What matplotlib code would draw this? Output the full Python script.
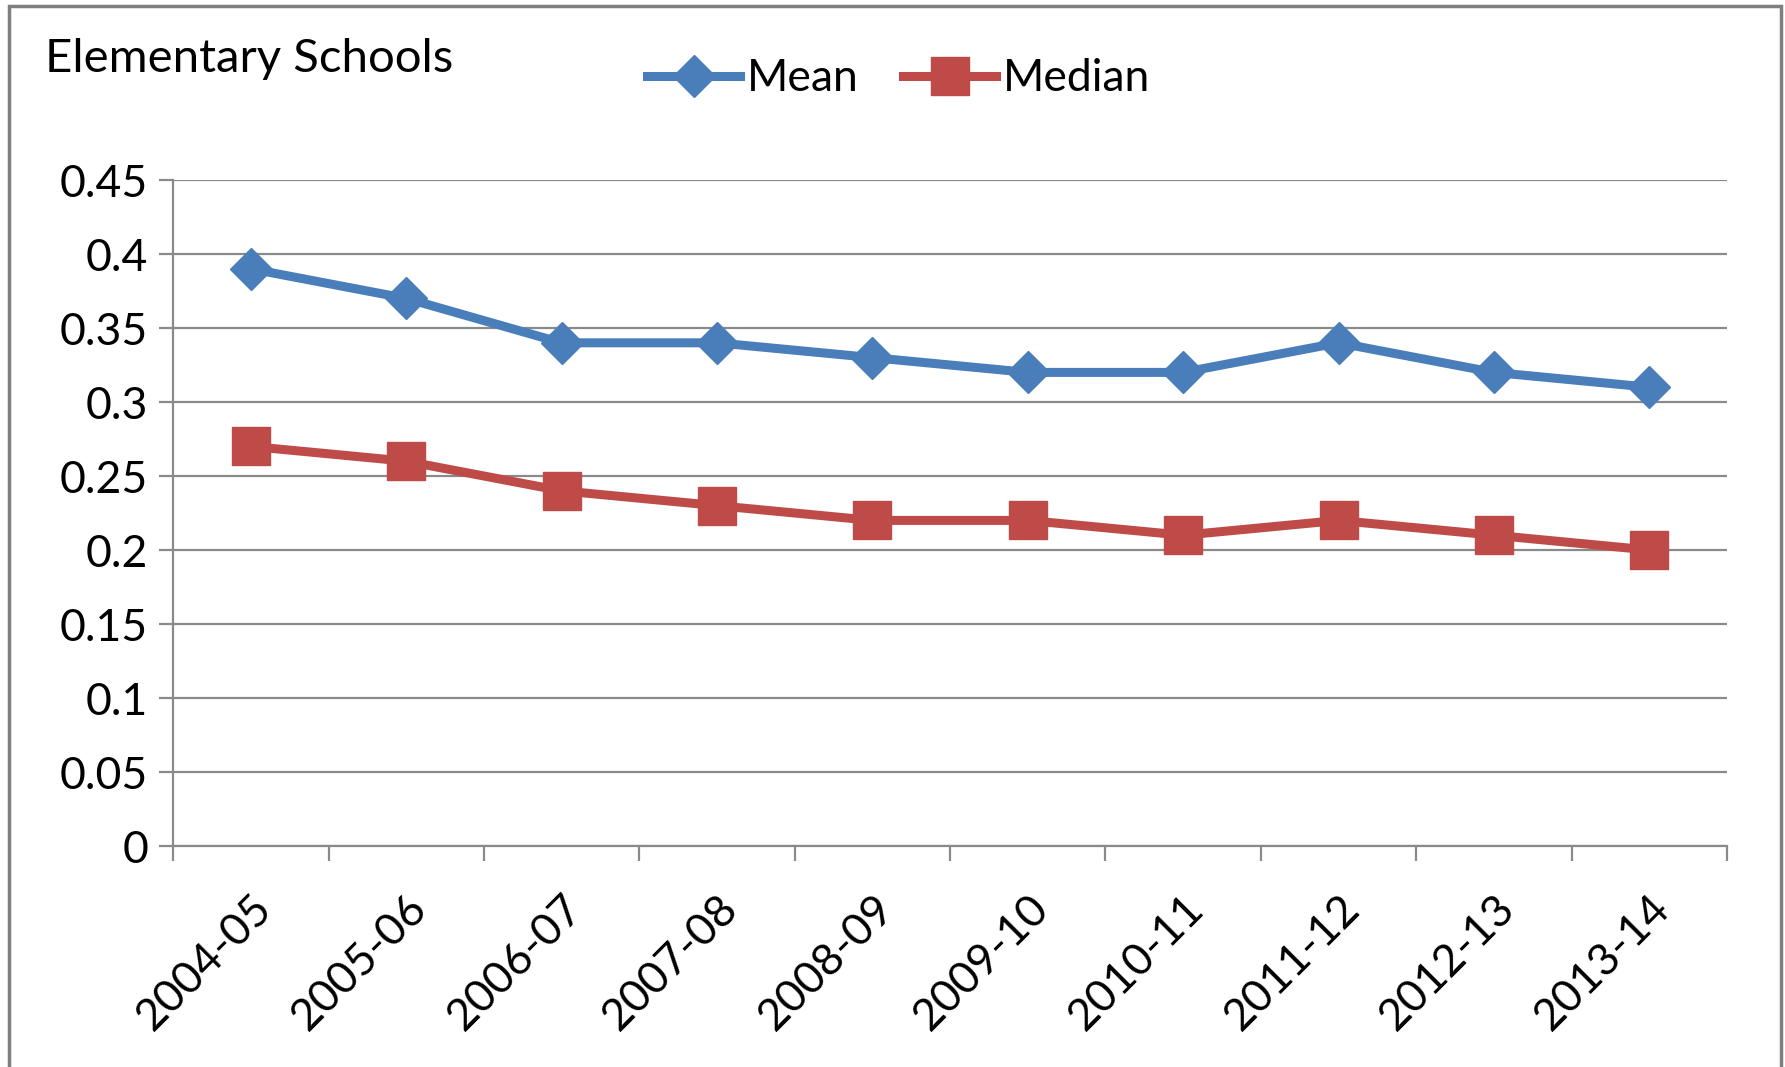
import numpy as np
import matplotlib.pyplot as plt
from matplotlib.patches import Rectangle

years = ["2004-05", "2005-06", "2006-07", "2007-08", "2008-09",
         "2009-10", "2010-11", "2011-12", "2012-13", "2013-14"]
mean = [0.39, 0.37, 0.34, 0.34, 0.33, 0.32, 0.32, 0.34, 0.32, 0.31]
median = [0.27, 0.26, 0.24, 0.23, 0.22, 0.22, 0.21, 0.22, 0.21, 0.20]

blue = "#4A7EBB"
red = "#BE4B48"
gray = "#8A8A8A"

plt.rcParams["font.family"] = ["Lato", "DejaVu Sans"]

fig = plt.figure(figsize=(17.85, 10.67), dpi=100)
ax = fig.add_axes([0.097, 0.2071, 0.8705, 0.6242])

x = np.arange(len(years))
ax.plot(x, mean, color=blue, lw=6.5, marker="D", markersize=21, label="Mean")
ax.plot(x, median, color=red, lw=6.5, marker="s", markersize=28, label="Median")

ax.set_xlim(-0.5, len(years) - 0.5)
ax.set_ylim(0, 0.45)
yt = np.arange(0, 0.46, 0.05)
ax.set_yticks(yt)
ax.set_yticklabels(["0", "0.05", "0.1", "0.15", "0.2", "0.25", "0.3", "0.35", "0.4", "0.45"])
ax.yaxis.grid(True, color=gray, lw=1.6)
ax.set_axisbelow(True)

ax.set_xticks(x)
ax.set_xticklabels(years, rotation=45, ha="right", rotation_mode="anchor")
ax.set_xticks(np.arange(-0.5, len(years)), minor=True)
ax.tick_params(axis="x", which="major", length=0, pad=30, labelsize=32)
ax.tick_params(axis="x", which="minor", length=11, width=1.6, color=gray, direction="out")
ax.tick_params(axis="y", length=10, width=1.6, color=gray, pad=8, labelsize=32)

for s in ["top", "right"]:
    ax.spines[s].set_visible(False)
for s in ["left", "bottom"]:
    ax.spines[s].set_color(gray)
    ax.spines[s].set_linewidth(1.6)

fig.text(0.025, 0.945, "Elementary Schools", fontsize=34, va="center", ha="left")
fig.legend(loc="center left", bbox_to_anchor=(0.34, 0.926), ncol=2, frameon=False,
           fontsize=32, handlelength=2.1, handletextpad=0.15, columnspacing=1.0)

# outer chart frame
fig.patches.append(Rectangle((0.005, -0.05), 0.9925, 1.044, transform=fig.transFigure,
                             fill=False, edgecolor="#7F7F7F", lw=2.5))

fig.savefig("out.png", dpi=100)
